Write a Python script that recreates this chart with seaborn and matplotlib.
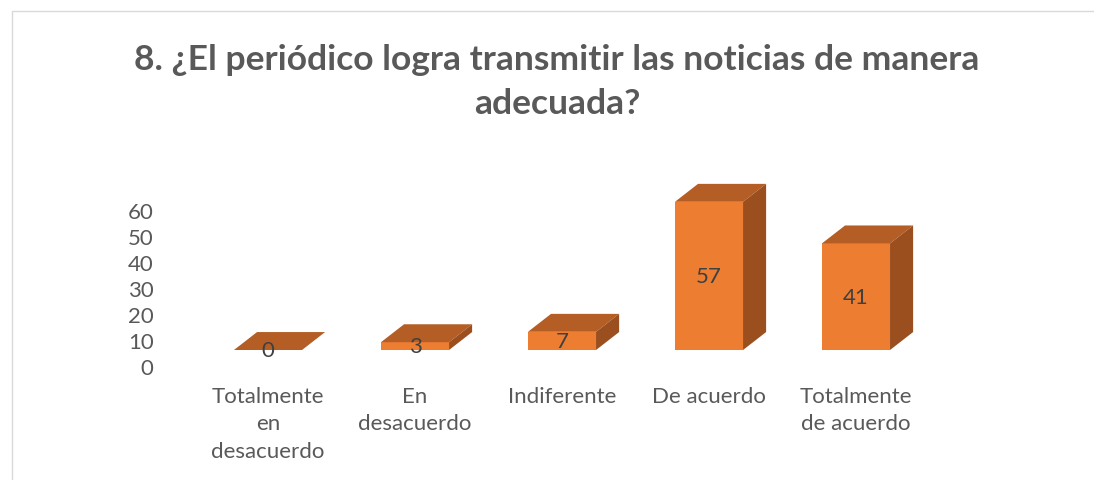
import textwrap
import matplotlib
matplotlib.use('Agg')
import matplotlib.pyplot as plt
import matplotlib.transforms as mtransforms
from matplotlib.patches import Polygon, Rectangle
import seaborn as sns

# datos de la pregunta 8
categorias = ['Totalmente en desacuerdo', 'En desacuerdo', 'Indiferente',
              'De acuerdo', 'Totalmente de acuerdo']
valores = [0, 3, 7, 57, 41]
ticks_y = [0, 10, 20, 30, 40, 50, 60]

titulo = '8. ¿El periódico logra transmitir las noticias de manera\nadecuada?'

naranja = '#ED7D31'
naranja_top = '#B45D24'
naranja_lado = '#9B4F1F'
gris = '#595959'

sns.set_theme(style='white')
plt.rcParams['font.family'] = ['Lato', 'DejaVu Sans']

fig = plt.figure(figsize=(10.94, 4.81), dpi=100)
ax = fig.add_axes([157.75 / 1094, 130 / 481, 808.5 / 1094, 169 / 481])

etiquetas = [textwrap.fill(c, 11) for c in categorias]
sns.barplot(x=etiquetas, y=valores, color=naranja, saturation=1, width=0.463,
            linewidth=0, ax=ax)

# efecto 3D: cara superior y lateral a partir de cada barra
prof_x = 0.157
prof_y = 6.9
for p in ax.patches:
    x0 = p.get_x()
    x1 = x0 + p.get_width()
    h = p.get_height()
    top = Polygon([(x0, h), (x1, h), (x1 + prof_x, h + prof_y), (x0 + prof_x, h + prof_y)],
                  closed=True, facecolor=naranja_top, edgecolor='none', clip_on=False)
    lado = Polygon([(x1, 0), (x1 + prof_x, prof_y), (x1 + prof_x, h + prof_y), (x1, h)],
                   closed=True, facecolor=naranja_lado, edgecolor='none', clip_on=False)
    ax.add_patch(top)
    ax.add_patch(lado)
    p.set_clip_on(False)

for i, v in enumerate(valores):
    ax.text(i, v / 2, str(v), ha='center', va='center', fontsize=16, color='#404040', zorder=5)

ax.set_xlim(-0.75, 4.75)
ax.set_ylim(0, 65)
ax.set_yticks(ticks_y)
ax.set_yticklabels([str(t) for t in ticks_y])
ax.tick_params(axis='y', length=0, pad=3, labelsize=16, labelcolor=gris)
ax.tick_params(axis='x', length=0, pad=26, labelsize=16, labelcolor=gris)
for lbl in ax.get_xticklabels():
    lbl.set_linespacing(1.45)

# las etiquetas del eje y van algo más abajo, como en el gráfico 3D original
desplazar = mtransforms.ScaledTranslation(0, -16 / 100, fig.dpi_scale_trans)
for lbl in ax.get_yticklabels():
    lbl.set_transform(lbl.get_transform() + desplazar)

sns.despine(ax=ax, left=True, bottom=True)
ax.set_xlabel('')
ax.set_ylabel('')

fig.text(557 / 1094, 1 - 82 / 481, titulo, ha='center', va='center', fontsize=25.5,
         fontweight='bold', color=gris, linespacing=1.45)

# marco del área del gráfico
fig.patches.append(Rectangle((12 / 1094, -0.1), 1.2, 0.1 + 1 - 12 / 481, transform=fig.transFigure,
                             fill=False, edgecolor='#D9D9D9', linewidth=1))

fig.savefig('out.png', dpi=100)
